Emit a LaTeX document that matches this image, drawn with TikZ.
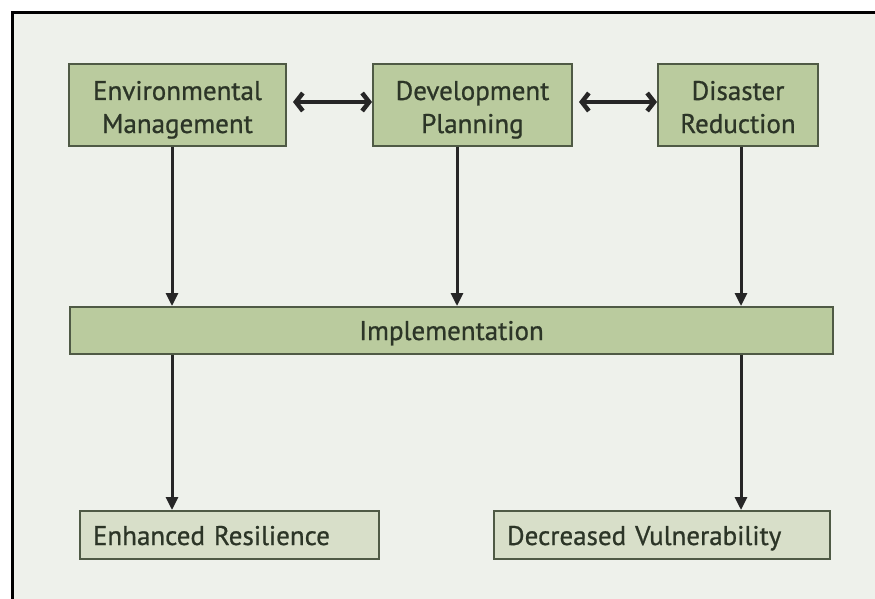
\documentclass[tikz,border=0pt]{standalone}
\usepackage{fontspec}
\setmainfont{PT Sans}[FakeBold=0.8]
\usetikzlibrary{arrows.meta}
\definecolor{paper}{HTML}{EEF1EB}
\definecolor{boxgreen}{HTML}{BACB9E}
\definecolor{boxpale}{HTML}{D8DFC9}
\definecolor{edge}{HTML}{4F5A45}
\definecolor{ink}{HTML}{2C3527}
\begin{document}
\begin{tikzpicture}[x=1pt,y=-1pt,
    every node/.style={font=\fontsize{27}{33}\selectfont,text=ink},
    topbox/.style={draw=edge,line width=2pt,fill=boxgreen,align=center,
      minimum height=81pt,inner sep=0pt,text height=56pt,text depth=0pt},
    outbox/.style={draw=edge,line width=2pt,fill=boxpale,align=left,
      minimum height=48pt,inner xsep=13pt,inner ysep=0pt,anchor=west,
      text height=22pt,text depth=2pt},
    flow/.style={-{Triangle[length=13pt,width=12pt]},line width=3pt,
      draw=black!85},
    both/.style={{Straight Barb[length=7pt,width=18pt]}-{Straight Barb[length=7pt,width=18pt]},
      line width=4.5pt,draw=black!85}]
    \useasboundingbox (0,0) rectangle (875,599);
    \fill[white] (0,0) rectangle (875,599);
    \draw[line width=3pt,fill=paper] (12.5,12.5) rectangle (900,630);
    % upper row
    \node[topbox,minimum width=217pt] (env) at (177.5,105) {Environmental\\Management};
    \node[topbox,minimum width=199pt] (dev) at (472.5,105) {Development\\Planning};
    \node[topbox,minimum width=160pt] (dis) at (738,105) {Disaster\\Reduction};
    \node[topbox,minimum width=763pt,minimum height=47pt,text height=22pt,
        text depth=3pt] (impl) at (451.5,330.5) {Implementation};
    % results
    \node[outbox,text width=273pt] (res) at (79,535) {Enhanced Resilience};
    \node[outbox,text width=310pt] (vul) at (493,535) {Decreased Vulnerability};
    % columns of the arrows
    \coordinate (colA) at (172,0);
    \coordinate (colB) at (457,0);
    \coordinate (colC) at (741,0);
    \draw[both,shorten <=6pt] ([yshift=3pt]env.east) -- ([yshift=3pt]dev.west);
    \draw[both,shorten <=6pt] ([yshift=3pt]dev.east) -- ([yshift=3pt]dis.west);
    \draw[flow] (env.south -| colA) -- (impl.north -| colA);
    \draw[flow] (dev.south -| colB) -- (impl.north -| colB);
    \draw[flow] (dis.south -| colC) -- (impl.north -| colC);
    \draw[flow] (impl.south -| colA) -- (res.north -| colA);
    \draw[flow] (impl.south -| colC) -- (vul.north -| colC);
\end{tikzpicture}
\end{document}
